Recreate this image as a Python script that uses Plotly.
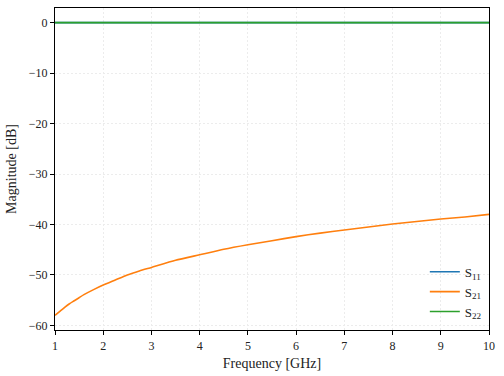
import plotly.graph_objects as go

freq = [1, 1.1, 1.2, 1.3, 1.4, 1.5, 1.6, 1.8, 2, 2.25, 2.5, 2.75, 3, 3.5, 4, 4.5, 5, 5.5, 6,
        6.5, 7, 7.5, 8, 8.5, 9, 9.5, 10]
s11 = [0.0] * len(freq)
s21 = [-58.0, -57.2, -56.4, -55.7, -55.1, -54.5, -53.9, -52.9, -52.0, -51.0, -50.0, -49.2,
       -48.5, -47.1, -46.0, -44.9, -44.0, -43.2, -42.4, -41.7, -41.1, -40.5, -39.9, -39.4,
       -38.9, -38.5, -38.0]
s22 = [0.0] * len(freq)
names = ["S<sub>11</sub>", "S<sub>21</sub>", "S<sub>22</sub>"]
colors = ["#1f77b4", "#ff7f0e", "#2ca02c"]
x_ticks = [1, 2, 3, 4, 5, 6, 7, 8, 9, 10]
y_ticks = [0, -10, -20, -30, -40, -50, -60]

FONT = "Liberation Serif, DejaVu Serif, serif"

fig = go.Figure()
for name, ys, c in zip(names, [s11, s21, s22], colors):
    fig.add_trace(go.Scatter(x=freq, y=ys, mode="lines", name=name,
                             line=dict(color=c, width=1.6, shape="spline", smoothing=0.6)))

axis_common = dict(showline=True, linecolor="black", linewidth=1.2, mirror=True,
                   ticks="outside", ticklen=4, tickcolor="black", tickwidth=1,
                   showgrid=True, gridcolor="#ececec", griddash="2px,2px", gridwidth=0.6,
                   zeroline=False, tickfont=dict(size=12, color="#222"))

fig.update_layout(
    width=504, height=376,
    margin=dict(l=55, r=15, t=8, b=46),
    paper_bgcolor="white", plot_bgcolor="white",
    font=dict(family=FONT, color="#222"),
    xaxis=dict(range=[1, 10], tickvals=x_ticks,
               title=dict(text="Frequency [GHz]", font=dict(size=14), standoff=6),
               **axis_common),
    yaxis=dict(range=[-60.9, 2.9], tickvals=y_ticks,
               title=dict(text="Magnitude [dB]", font=dict(size=14), standoff=8),
               **axis_common),
    legend=dict(x=0.995, y=0.01, xanchor="right", yanchor="bottom",
                bgcolor="rgba(255,255,255,0)", font=dict(size=13),
                tracegroupgap=0, itemwidth=30),
    showlegend=True,
)

fig.write_html("out.html")
